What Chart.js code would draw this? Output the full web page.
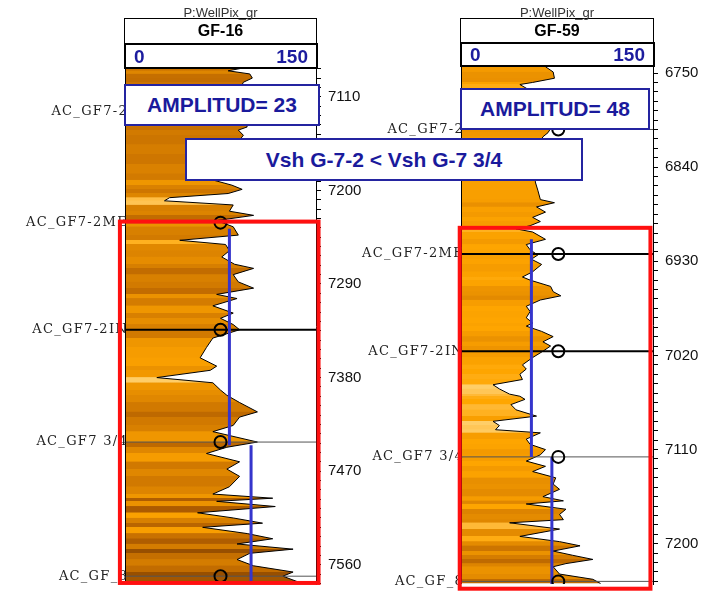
<!DOCTYPE html>
<html>
<head>
<meta charset="utf-8">
<script src="https://cdn.jsdelivr.net/npm/chart.js@4.4.1/dist/chart.umd.min.js"></script>
<style>
  body { margin: 0; background: #fff; }
  #wrap { position: relative; width: 706px; height: 592px; overflow: hidden; }
  canvas { position: absolute; top: 0; }
  .note {
    position: absolute; box-sizing: border-box; background: #fff;
    border: 2px solid #2424a0; color: #1a1a9c;
    font: bold 21px "Liberation Sans", Arial, sans-serif;
    display: flex; align-items: center; justify-content: center;
  }
</style>
</head>
<body>
<div id="wrap">
  <canvas id="gf16" width="370" height="592" style="left:0"></canvas>
  <canvas id="gf59" width="351" height="592" style="left:355px"></canvas>
  <div class="note" style="left:124px;top:84px;width:196px;height:42px">AMPLITUD= 23</div>
  <div class="note" style="left:460px;top:88px;width:190px;height:42px">AMPLITUD= 48</div>
  <div class="note" style="left:185px;top:138px;width:398px;height:43px">Vsh G-7-2 &lt; Vsh G-7 3/4</div>
</div>
<script>
// gamma ray scale of both tracks (API)
const grScale = [0, 150];

// GF-16: depth (ft) and gamma ray
const depth16 = [7082, 7085, 7088, 7092, 7096, 7103, 7113, 7122, 7132, 7139, 7142, 7147, 7156, 7165, 7175, 7184,
  7190, 7195, 7199, 7203, 7207, 7210, 7214, 7220, 7224, 7229, 7235, 7243, 7248, 7252, 7258, 7264, 7271, 7275, 7281,
  7288, 7294, 7300, 7304, 7311, 7318, 7323, 7329, 7334, 7342, 7351, 7361, 7369, 7373, 7380, 7385, 7392, 7397, 7404,
  7413, 7418, 7426, 7432, 7442, 7447, 7453, 7461, 7468, 7475, 7485, 7492, 7496, 7499, 7504, 7510, 7515, 7520, 7524,
  7530, 7535, 7540, 7545, 7549, 7555, 7561, 7567, 7571, 7577];
const gr16 = [94, 81, 98, 100, 93, 90, 95, 89, 93, 96, 89, 93, 87, 92, 84, 89,
  69, 84, 92, 81, 35, 31, 85, 82, 101, 72, 85, 89, 43, 79, 82, 76, 86, 101, 85,
  89, 101, 72, 88, 69, 85, 75, 85, 90, 69, 64, 59, 72, 67, 25, 69, 75, 80, 90,
  104, 90, 85, 69, 104, 80, 64, 90, 80, 90, 82, 69, 116, 72, 118, 57, 85, 108, 61,
  96, 116, 88, 132, 98, 88, 101, 132, 124, 137];
const range16 = [7082.3, 7578.5];
const depthLabels16 = [7110, 7200, 7290, 7380, 7470, 7560];

// GF-59: depth (ft) and gamma ray
const depth59 = [6744, 6749, 6755, 6759, 6761, 6771, 6781, 6790, 6800, 6803, 6807, 6811, 6819, 6828, 6838, 6847,
  6854, 6862, 6871, 6874, 6878, 6883, 6888, 6892, 6896, 6899, 6902, 6909, 6914, 6919, 6924, 6928, 6933, 6940, 6945,
  6948, 6954, 6959, 6963, 6967, 6973, 6978, 6984, 6989, 6992, 6997, 7002, 7007, 7011, 7016, 7022, 7029, 7033, 7038,
  7043, 7048, 7052, 7057, 7059, 7062, 7067, 7072, 7078, 7083, 7087, 7091, 7094, 7100, 7105, 7110, 7115, 7121, 7126,
  7131, 7137, 7143, 7148, 7155, 7159, 7162, 7167, 7172, 7177, 7180, 7186, 7193, 7198, 7202, 7207, 7211, 7215, 7219,
  7222, 7229, 7234, 7238];
const gr59 = [66, 72, 73, 56, 46, 60, 66, 58, 64, 70, 68, 64, 60, 66, 57, 62,
  58, 60, 62, 73, 59, 66, 56, 62, 54, 43, 56, 66, 51, 54, 60, 55, 63, 56, 48,
  54, 70, 72, 78, 62, 51, 54, 51, 56, 51, 63, 72, 64, 70, 64, 56, 48, 51, 46,
  48, 25, 30, 38, 46, 50, 39, 43, 59, 25, 30, 27, 62, 51, 54, 66, 62, 51, 66,
  56, 74, 72, 77, 64, 80, 51, 82, 77, 80, 38, 77, 46, 77, 93, 72, 87, 103, 82,
  72, 77, 103, 109];
const range59 = [6743.3, 7238.5];
const depthLabels59 = [6750, 6840, 6930, 7020, 7110, 7200];

// formation tops
const topNames = ["AC_GF7-2", "AC_GF7-2ME", "AC_GF7-2IN", "AC_GF7 3/4", "AC_GF_8"];
const topDepth16 = [7124, 7231, 7334, 7442, 7571];
const topDepth59 = [6804, 6923, 7016, 7117, 7236];
const topMarkGr16 = 75;
const topMarkGr59 = 76;

// shale baselines (blue): gr value, from depth, to depth
const base16Gr = [82, 99];
const base16From = [7237, 7445];
const base16To = [7445, 7582];
const base59Gr = [55, 71];
const base59From = [6909, 7117];
const base59To = [7117, 7245];

// red frame: gr from/to, depth from/to
const frame16 = { gr: [-4, 152], depth: [7230, 7577.5] };
const frame59 = { gr: [-1, 148], depth: [6898, 7243] };

// colour of the fill by gamma ray value
const ramp = [
  [20, [255, 214, 122]], [35, [255, 190, 69]], [50, [255, 166, 0]], [65, [245, 155, 0]],
  [80, [224, 135, 0]], [95, [201, 114, 0]], [115, [176, 94, 0]], [140, [140, 72, 0]]
];
function grColor(v) {
  if (v <= ramp[0][0]) return `rgb(${ramp[0][1].join(",")})`;
  for (let i = 1; i < ramp.length; i++) {
    if (v <= ramp[i][0]) {
      const t = (v - ramp[i - 1][0]) / (ramp[i][0] - ramp[i - 1][0]);
      const c = ramp[i - 1][1].map((a, k) => Math.round(a + (ramp[i][1][k] - a) * t));
      return `rgb(${c.join(",")})`;
    }
  }
  return `rgb(${ramp[ramp.length - 1][1].join(",")})`;
}

function bandFill(chart, depths, gr) {
  const { ctx, chartArea, scales } = chart;
  if (!chartArea) return "orange";
  const h = chartArea.bottom - chartArea.top;
  const pos = (d) => Math.min(1, Math.max(0, (scales.y.getPixelForValue(d) - chartArea.top) / h));
  const g = ctx.createLinearGradient(0, chartArea.top, 0, chartArea.bottom);
  let last = 0;
  for (let i = 0; i < depths.length; i++) {
    const p0 = Math.max(last, pos(depths[i]));
    const p1 = i < depths.length - 1 ? pos(depths[i + 1]) : 1;
    const c = grColor(gr[i]);
    g.addColorStop(p0, c);
    last = Math.max(p0, p1 - 0.001);
    g.addColorStop(last, c);
  }
  return g;
}

// headers, track border, top names and red frame
const wellDecor = {
  id: "wellDecor",
  afterDatasetsDraw(chart, args, opts) {
    const { ctx, chartArea: a, scales: { x, y } } = chart;
    const mid = (a.left + a.right) / 2;
    ctx.save();
    ctx.strokeStyle = "#000";
    ctx.lineWidth = 1;
    ctx.beginPath();
    ctx.moveTo(a.left + 0.5, a.top);
    ctx.lineTo(a.left + 0.5, a.bottom);
    ctx.stroke();

    // header boxes
    ctx.strokeRect(a.left - 0.5, opts.headTop + 0.5, a.right - a.left + 1, opts.scaleTop - opts.headTop);
    ctx.lineWidth = 2;
    ctx.strokeRect(a.left, opts.scaleTop + 1, a.right - a.left + 1, a.top - opts.scaleTop - 1);
    ctx.textBaseline = "alphabetic";
    ctx.textAlign = "center";
    ctx.fillStyle = "#333";
    ctx.font = '13px "Liberation Sans"';
    ctx.fillText("P:WellPix_gr", mid, opts.headTop - 1);
    ctx.fillStyle = "#000";
    ctx.font = 'bold 16px "Liberation Sans"';
    ctx.fillText(opts.name, mid, opts.headTop + 18);
    ctx.fillStyle = "#1c1c9e";
    ctx.font = 'bold 19px "Liberation Sans"';
    ctx.textAlign = "left";
    ctx.fillText(String(grScale[0]), x.getPixelForValue(grScale[0]) + 9, a.top - 5);
    ctx.textAlign = "right";
    ctx.fillText(String(grScale[1]), x.getPixelForValue(grScale[1]) - 8, a.top - 5);

    // formation top names
    ctx.font = '13px "DejaVu Serif"';
    ctx.letterSpacing = "1.3px";
    ctx.fillStyle = "#222";
    ctx.textBaseline = "middle";
    opts.topDepths.forEach((d, i) => ctx.fillText(topNames[i], a.left + 3, y.getPixelForValue(d)));
    ctx.letterSpacing = "0px";

    // red frame
    const f = opts.frame;
    const x0 = x.getPixelForValue(f.gr[0]), x1 = x.getPixelForValue(f.gr[1]);
    const y0 = y.getPixelForValue(f.depth[0]), y1 = y.getPixelForValue(f.depth[1]);
    ctx.strokeStyle = "#ff1010";
    ctx.lineWidth = 4;
    ctx.strokeRect(x0, y0, x1 - x0, y1 - y0);
    ctx.restore();
  }
};

function makeWell(id, w) {
  const curve = w.depths.map((d, i) => ({ x: w.gr[i], y: d }));
  const datasets = [{
    data: curve,
    borderColor: "#000",
    borderWidth: 1,
    pointRadius: 0,
    fill: "origin",
    backgroundColor: (c) => bandFill(c.chart, w.depths, w.gr),
    order: 10
  }];
  w.topDepths.forEach((d, i) => {
    const thick = w.thickTops.includes(i);
    datasets.push({
      data: [{ x: grScale[0], y: d }, { x: grScale[1], y: d }],
      borderColor: thick ? "#000" : "#555",
      borderWidth: thick ? 2 : 1,
      pointRadius: 0,
      fill: false,
      order: 5
    });
  });
  w.baseGr.forEach((g, i) => {
    datasets.push({
      data: [{ x: g, y: w.baseFrom[i] }, { x: g, y: w.baseTo[i] }],
      borderColor: "#3535cc",
      borderWidth: 3,
      pointRadius: 0,
      fill: false,
      order: 2
    });
  });
  datasets.push({
    data: w.topDepths.map((d) => ({ x: w.markGr, y: d })),
    showLine: false,
    pointRadius: 6,
    pointBorderWidth: 2,
    pointBorderColor: "#000",
    pointBackgroundColor: "rgba(0,0,0,0)",
    fill: false,
    order: 1
  });

  new Chart(id, {
    type: "line",
    data: { datasets },
    plugins: [wellDecor],
    options: {
      responsive: false,
      animation: false,
      indexAxis: "y",
      layout: { padding: w.padding },
      plugins: {
        legend: { display: false },
        tooltip: { enabled: false },
        wellDecor: { name: w.name, headTop: w.headTop, scaleTop: w.scaleTop, topDepths: w.topDepths, frame: w.frame }
      },
      scales: {
        x: { type: "linear", min: grScale[0], max: grScale[1], display: false },
        y: {
          type: "linear",
          reverse: true,
          position: "right",
          min: w.range[0],
          max: w.range[1],
          afterFit(s) { s.width = 50; s.paddingTop = 0; s.paddingBottom = 0; },
          afterBuildTicks(s) {
            const t = [];
            for (let v = Math.ceil(s.min / 9) * 9; v <= s.max; v += 9) t.push({ value: v });
            s.ticks = t;
          },
          ticks: {
            autoSkip: false,
            padding: 7,
            color: "#111",
            font: { family: "Liberation Sans", size: 15 },
            callback: (v) => (w.labels.includes(v) ? String(v) : "")
          },
          grid: { drawOnChartArea: false, drawTicks: true, tickLength: 5, color: "#000", tickColor: "#000" },
          border: { display: true, color: "#000", width: 1 }
        }
      }
    }
  });
}

makeWell("gf16", {
  name: "GF-16", depths: depth16, gr: gr16, range: range16, labels: depthLabels16,
  topDepths: topDepth16, thickTops: [2], markGr: topMarkGr16,
  baseGr: base16Gr, baseFrom: base16From, baseTo: base16To, frame: frame16,
  headTop: 18, scaleTop: 43,
  padding: { left: 125, right: 4, top: 68, bottom: 4 }
});
makeWell("gf59", {
  name: "GF-59", depths: depth59, gr: gr59, range: range59, labels: depthLabels59,
  topDepths: topDepth59, thickTops: [1, 2], markGr: topMarkGr59,
  baseGr: base59Gr, baseFrom: base59From, baseTo: base59To, frame: frame59,
  headTop: 18, scaleTop: 42,
  padding: { left: 106, right: 3, top: 66, bottom: 7 }
});
</script>
</body>
</html>
